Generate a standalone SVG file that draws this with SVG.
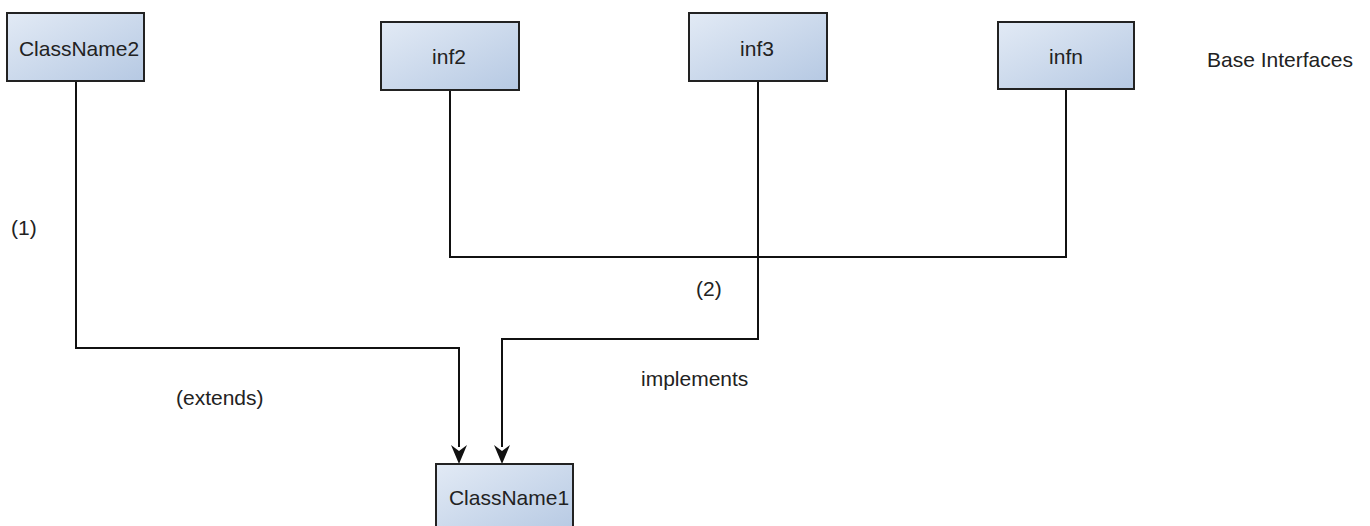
<svg xmlns="http://www.w3.org/2000/svg" width="1370" height="526" viewBox="0 0 1370 526">
  <defs>
    <linearGradient id="boxFill" x1="0" y1="0" x2="1" y2="1">
      <stop offset="0" stop-color="#e2eaf5"/>
      <stop offset="1" stop-color="#b6c9e3"/>
    </linearGradient>
    <style>
      .box { fill: url(#boxFill); stroke: #222; stroke-width: 2; }
      .lbl { font-family: "Liberation Sans", Arial, sans-serif; font-size: 21px; fill: #222; }
      .mid { text-anchor: middle; }
      .wire { fill: none; stroke: #111; stroke-width: 2; }
      .head { fill: #111; }
    </style>
  </defs>
  <rect width="1370" height="526" fill="#ffffff"/>

  <!-- connectors -->
  <g id="connectors">
    <path class="wire" d="M76,81 V348 H459 V447"/>
    <path class="wire" d="M758,81 V339 H502 V447"/>
    <path class="wire" d="M450,90 V257 H1066 V89"/>
    <path class="head" d="M451,445 L459,451 L467,445 L459,464 Z"/>
    <path class="head" d="M494,445 L502,451 L510,445 L502,464 Z"/>
  </g>

  <!-- nodes -->
  <g id="ClassName2">
    <rect class="box" x="7" y="13" width="137" height="68"/>
    <text class="lbl mid" x="79" y="56">ClassName2</text>
  </g>
  <g id="inf2">
    <rect class="box" x="381" y="22" width="138" height="68"/>
    <text class="lbl mid" x="449" y="64">inf2</text>
  </g>
  <g id="inf3">
    <rect class="box" x="689" y="13" width="138" height="68"/>
    <text class="lbl mid" x="757" y="56">inf3</text>
  </g>
  <g id="infn">
    <rect class="box" x="998" y="22" width="136" height="67"/>
    <text class="lbl mid" x="1066" y="64">infn</text>
  </g>
  <g id="ClassName1">
    <rect class="box" x="436" y="464" width="137" height="70"/>
    <text class="lbl mid" x="509" y="505">ClassName1</text>
  </g>

  <!-- labels -->
  <g id="labels">
    <text class="lbl" x="1207" y="67">Base Interfaces</text>
    <text class="lbl" x="11" y="235">(1)</text>
    <text class="lbl" x="696" y="296">(2)</text>
    <text class="lbl" x="176" y="405">(extends)</text>
    <text class="lbl" x="641" y="386">implements</text>
  </g>
</svg>
